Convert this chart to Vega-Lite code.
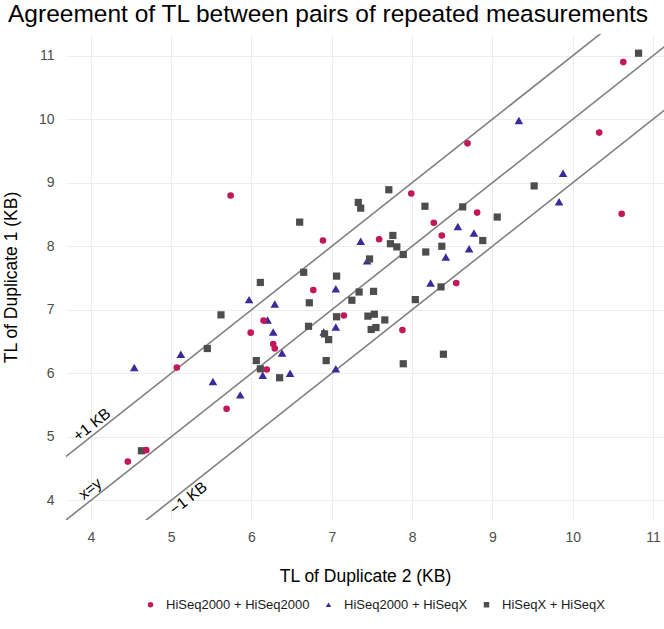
{
  "$schema": "https://vega.github.io/schema/vega-lite/v6.json",
  "width": 598,
  "height": 486,
  "autosize": {"type": "none"},
  "padding": {"left": 66, "top": 34, "right": 0, "bottom": 109},
  "background": "white",
  "title": {"text": "Agreement of TL between pairs of repeated measurements", "anchor": "start", "frame": "group", "dx": -58, "fontSize": 24.5, "font": "Liberation Sans", "fontWeight": "normal", "color": "black", "offset": 7},
  "datasets": {
    "pts": [
      {"g": "HiSeq2000 + HiSeqX", "x": 9.33, "y": 9.98},
      {"g": "HiSeq2000 + HiSeqX", "x": 9.88, "y": 9.15},
      {"g": "HiSeq2000 + HiSeqX", "x": 9.83, "y": 8.70},
      {"g": "HiSeq2000 + HiSeqX", "x": 8.57, "y": 8.31},
      {"g": "HiSeq2000 + HiSeqX", "x": 8.77, "y": 8.21},
      {"g": "HiSeq2000 + HiSeqX", "x": 8.71, "y": 7.96},
      {"g": "HiSeq2000 + HiSeqX", "x": 8.42, "y": 7.83},
      {"g": "HiSeq2000 + HiSeqX", "x": 7.44, "y": 7.77},
      {"g": "HiSeq2000 + HiSeqX", "x": 7.36, "y": 8.08},
      {"g": "HiSeq2000 + HiSeqX", "x": 8.23, "y": 7.42},
      {"g": "HiSeq2000 + HiSeqX", "x": 7.05, "y": 7.33},
      {"g": "HiSeq2000 + HiSeqX", "x": 7.05, "y": 6.73},
      {"g": "HiSeq2000 + HiSeqX", "x": 7.05, "y": 6.07},
      {"g": "HiSeq2000 + HiSeqX", "x": 5.97, "y": 7.16},
      {"g": "HiSeq2000 + HiSeqX", "x": 6.29, "y": 7.09},
      {"g": "HiSeq2000 + HiSeqX", "x": 6.20, "y": 6.84},
      {"g": "HiSeq2000 + HiSeqX", "x": 6.27, "y": 6.65},
      {"g": "HiSeq2000 + HiSeqX", "x": 6.38, "y": 6.32},
      {"g": "HiSeq2000 + HiSeqX", "x": 6.14, "y": 5.97},
      {"g": "HiSeq2000 + HiSeqX", "x": 6.48, "y": 6.00},
      {"g": "HiSeq2000 + HiSeqX", "x": 5.52, "y": 5.87},
      {"g": "HiSeq2000 + HiSeqX", "x": 5.86, "y": 5.66},
      {"g": "HiSeq2000 + HiSeqX", "x": 4.54, "y": 6.09},
      {"g": "HiSeq2000 + HiSeqX", "x": 5.12, "y": 6.30},
      {"g": "HiSeq2000 + HiSeqX", "x": 6.90, "y": 6.65},
      {"g": "HiSeqX + HiSeqX", "x": 10.82, "y": 11.04},
      {"g": "HiSeqX + HiSeqX", "x": 9.52, "y": 8.95},
      {"g": "HiSeqX + HiSeqX", "x": 7.71, "y": 8.89},
      {"g": "HiSeqX + HiSeqX", "x": 8.16, "y": 8.63},
      {"g": "HiSeqX + HiSeqX", "x": 8.63, "y": 8.62},
      {"g": "HiSeqX + HiSeqX", "x": 9.06, "y": 8.46},
      {"g": "HiSeqX + HiSeqX", "x": 8.88, "y": 8.09},
      {"g": "HiSeqX + HiSeqX", "x": 7.76, "y": 8.17},
      {"g": "HiSeqX + HiSeqX", "x": 7.73, "y": 8.04},
      {"g": "HiSeqX + HiSeqX", "x": 7.81, "y": 7.99},
      {"g": "HiSeqX + HiSeqX", "x": 8.37, "y": 8.00},
      {"g": "HiSeqX + HiSeqX", "x": 8.17, "y": 7.91},
      {"g": "HiSeqX + HiSeqX", "x": 7.89, "y": 7.87},
      {"g": "HiSeqX + HiSeqX", "x": 7.47, "y": 7.80},
      {"g": "HiSeqX + HiSeqX", "x": 7.33, "y": 8.69},
      {"g": "HiSeqX + HiSeqX", "x": 7.36, "y": 8.60},
      {"g": "HiSeqX + HiSeqX", "x": 7.06, "y": 7.53},
      {"g": "HiSeqX + HiSeqX", "x": 7.34, "y": 7.28},
      {"g": "HiSeqX + HiSeqX", "x": 7.52, "y": 7.29},
      {"g": "HiSeqX + HiSeqX", "x": 7.25, "y": 7.15},
      {"g": "HiSeqX + HiSeqX", "x": 8.36, "y": 7.36},
      {"g": "HiSeqX + HiSeqX", "x": 8.04, "y": 7.16},
      {"g": "HiSeqX + HiSeqX", "x": 7.06, "y": 6.89},
      {"g": "HiSeqX + HiSeqX", "x": 7.45, "y": 6.90},
      {"g": "HiSeqX + HiSeqX", "x": 7.53, "y": 6.93},
      {"g": "HiSeqX + HiSeqX", "x": 7.66, "y": 6.84},
      {"g": "HiSeqX + HiSeqX", "x": 7.49, "y": 6.69},
      {"g": "HiSeqX + HiSeqX", "x": 7.55, "y": 6.72},
      {"g": "HiSeqX + HiSeqX", "x": 6.91, "y": 6.62},
      {"g": "HiSeqX + HiSeqX", "x": 6.96, "y": 6.53},
      {"g": "HiSeqX + HiSeqX", "x": 6.93, "y": 6.20},
      {"g": "HiSeqX + HiSeqX", "x": 8.39, "y": 6.30},
      {"g": "HiSeqX + HiSeqX", "x": 7.89, "y": 6.15},
      {"g": "HiSeqX + HiSeqX", "x": 6.60, "y": 8.38},
      {"g": "HiSeqX + HiSeqX", "x": 6.65, "y": 7.59},
      {"g": "HiSeqX + HiSeqX", "x": 6.11, "y": 7.43},
      {"g": "HiSeqX + HiSeqX", "x": 6.72, "y": 7.11},
      {"g": "HiSeqX + HiSeqX", "x": 5.62, "y": 6.92},
      {"g": "HiSeqX + HiSeqX", "x": 6.71, "y": 6.74},
      {"g": "HiSeqX + HiSeqX", "x": 5.45, "y": 6.39},
      {"g": "HiSeqX + HiSeqX", "x": 6.06, "y": 6.20},
      {"g": "HiSeqX + HiSeqX", "x": 6.11, "y": 6.07},
      {"g": "HiSeqX + HiSeqX", "x": 6.35, "y": 5.93},
      {"g": "HiSeqX + HiSeqX", "x": 4.63, "y": 4.78},
      {"g": "HiSeq2000 + HiSeq2000", "x": 10.63, "y": 10.90},
      {"g": "HiSeq2000 + HiSeq2000", "x": 10.33, "y": 9.79},
      {"g": "HiSeq2000 + HiSeq2000", "x": 8.69, "y": 9.62},
      {"g": "HiSeq2000 + HiSeq2000", "x": 7.99, "y": 8.83},
      {"g": "HiSeq2000 + HiSeq2000", "x": 8.27, "y": 8.37},
      {"g": "HiSeq2000 + HiSeq2000", "x": 8.81, "y": 8.53},
      {"g": "HiSeq2000 + HiSeq2000", "x": 8.37, "y": 8.17},
      {"g": "HiSeq2000 + HiSeq2000", "x": 7.59, "y": 8.11},
      {"g": "HiSeq2000 + HiSeq2000", "x": 10.61, "y": 8.51},
      {"g": "HiSeq2000 + HiSeq2000", "x": 5.74, "y": 8.80},
      {"g": "HiSeq2000 + HiSeq2000", "x": 6.89, "y": 8.09},
      {"g": "HiSeq2000 + HiSeq2000", "x": 8.55, "y": 7.42},
      {"g": "HiSeq2000 + HiSeq2000", "x": 7.88, "y": 6.68},
      {"g": "HiSeq2000 + HiSeq2000", "x": 6.77, "y": 7.31},
      {"g": "HiSeq2000 + HiSeq2000", "x": 7.15, "y": 6.91},
      {"g": "HiSeq2000 + HiSeq2000", "x": 6.15, "y": 6.83},
      {"g": "HiSeq2000 + HiSeq2000", "x": 5.99, "y": 6.64},
      {"g": "HiSeq2000 + HiSeq2000", "x": 6.27, "y": 6.46},
      {"g": "HiSeq2000 + HiSeq2000", "x": 6.29, "y": 6.39},
      {"g": "HiSeq2000 + HiSeq2000", "x": 5.07, "y": 6.09},
      {"g": "HiSeq2000 + HiSeq2000", "x": 6.19, "y": 6.06},
      {"g": "HiSeq2000 + HiSeq2000", "x": 5.69, "y": 5.44},
      {"g": "HiSeq2000 + HiSeq2000", "x": 4.69, "y": 4.79},
      {"g": "HiSeq2000 + HiSeq2000", "x": 4.46, "y": 4.61}
    ],
    "lines": [
      {"x1": 3.5, "y1": 4.5, "x2": 10.5, "y2": 11.5},
      {"x1": 3.5, "y1": 3.5, "x2": 11.5, "y2": 11.5},
      {"x1": 4.5, "y1": 3.5, "x2": 11.5, "y2": 10.5}
    ],
    "labUp": [
      {"lx": 4.05, "ly": 5.13, "t": "+1 KB"},
      {"lx": 4.03, "ly": 4.12, "t": "x=y"}
    ],
    "labDown": [
      {"lx": 5.16, "ly": 4.12, "t": "−1 KB"}
    ]
  },
  "layer": [
    {
      "data": {"name": "lines"},
      "mark": {"type": "rule", "color": "#808080", "strokeWidth": 1.6, "clip": true},
      "encoding": {
        "x": {"field": "x1", "type": "quantitative", "title": "TL of Duplicate 2 (KB)", "scale": {"domain": [3.69, 11.137], "nice": false, "zero": false}, "axis": {"values": [4, 5, 6, 7, 8, 9, 10, 11], "format": "d"}},
        "y": {"field": "y1", "type": "quantitative", "title": "TL of Duplicate 1 (KB)", "scale": {"domain": [3.69, 11.342], "nice": false, "zero": false}, "axis": {"values": [4, 5, 6, 7, 8, 9, 10, 11], "format": "d"}},
        "x2": {"field": "x2"},
        "y2": {"field": "y2"}
      }
    },
    {
      "data": {"name": "labUp"},
      "mark": {"type": "text", "angle": -38.3, "fontSize": 15.5, "font": "Liberation Sans", "color": "black", "align": "center", "baseline": "alphabetic"},
      "encoding": {
        "x": {"field": "lx", "type": "quantitative", "title": "TL of Duplicate 2 (KB)"},
        "y": {"field": "ly", "type": "quantitative", "title": "TL of Duplicate 1 (KB)"},
        "text": {"field": "t"}
      }
    },
    {
      "data": {"name": "labDown"},
      "mark": {"type": "text", "angle": -38.3, "fontSize": 15.5, "font": "Liberation Sans", "color": "black", "align": "center", "baseline": "top"},
      "encoding": {
        "x": {"field": "lx", "type": "quantitative", "title": "TL of Duplicate 2 (KB)"},
        "y": {"field": "ly", "type": "quantitative", "title": "TL of Duplicate 1 (KB)"},
        "text": {"field": "t"}
      }
    },
    {
      "data": {"name": "pts"},
      "transform": [{"filter": "datum.g === 'HiSeq2000 + HiSeqX'"}],
      "mark": {"type": "point", "filled": true, "opacity": 1, "size": 74},
      "encoding": {
        "x": {"field": "x", "type": "quantitative", "title": "TL of Duplicate 2 (KB)"},
        "y": {"field": "y", "type": "quantitative", "title": "TL of Duplicate 1 (KB)"},
        "color": {"field": "g", "type": "nominal", "scale": {"domain": ["HiSeq2000 + HiSeq2000", "HiSeq2000 + HiSeqX", "HiSeqX + HiSeqX"], "range": ["#C2185B", "#3B2A9A", "#4D4D4D"]}, "legend": {"orient": "none", "legendX": 78, "legendY": 564, "direction": "horizontal", "title": null, "labelFontSize": 13, "labelFont": "Liberation Sans", "labelColor": "#1a1a1a", "symbolSize": 30, "labelOffset": 9, "columnPadding": 12}},
        "shape": {"field": "g", "type": "nominal", "scale": {"domain": ["HiSeq2000 + HiSeq2000", "HiSeq2000 + HiSeqX", "HiSeqX + HiSeqX"], "range": ["circle", "triangle-up", "square"]}, "legend": {"orient": "none", "legendX": 78, "legendY": 564, "direction": "horizontal", "title": null, "labelFontSize": 13, "labelFont": "Liberation Sans", "labelColor": "#1a1a1a", "symbolSize": 30, "labelOffset": 9, "columnPadding": 12}}
      }
    },
    {
      "data": {"name": "pts"},
      "transform": [{"filter": "datum.g === 'HiSeqX + HiSeqX'"}],
      "mark": {"type": "point", "filled": true, "opacity": 1, "size": 52},
      "encoding": {
        "x": {"field": "x", "type": "quantitative", "title": "TL of Duplicate 2 (KB)"},
        "y": {"field": "y", "type": "quantitative", "title": "TL of Duplicate 1 (KB)"},
        "color": {"field": "g", "type": "nominal", "scale": {"domain": ["HiSeq2000 + HiSeq2000", "HiSeq2000 + HiSeqX", "HiSeqX + HiSeqX"], "range": ["#C2185B", "#3B2A9A", "#4D4D4D"]}, "legend": {"orient": "none", "legendX": 78, "legendY": 564, "direction": "horizontal", "title": null, "labelFontSize": 13, "labelFont": "Liberation Sans", "labelColor": "#1a1a1a", "symbolSize": 30, "labelOffset": 9, "columnPadding": 12}},
        "shape": {"field": "g", "type": "nominal", "scale": {"domain": ["HiSeq2000 + HiSeq2000", "HiSeq2000 + HiSeqX", "HiSeqX + HiSeqX"], "range": ["circle", "triangle-up", "square"]}, "legend": {"orient": "none", "legendX": 78, "legendY": 564, "direction": "horizontal", "title": null, "labelFontSize": 13, "labelFont": "Liberation Sans", "labelColor": "#1a1a1a", "symbolSize": 30, "labelOffset": 9, "columnPadding": 12}}
      }
    },
    {
      "data": {"name": "pts"},
      "transform": [{"filter": "datum.g === 'HiSeq2000 + HiSeq2000'"}],
      "mark": {"type": "point", "filled": true, "opacity": 1, "size": 44},
      "encoding": {
        "x": {"field": "x", "type": "quantitative", "title": "TL of Duplicate 2 (KB)"},
        "y": {"field": "y", "type": "quantitative", "title": "TL of Duplicate 1 (KB)"},
        "color": {"field": "g", "type": "nominal", "scale": {"domain": ["HiSeq2000 + HiSeq2000", "HiSeq2000 + HiSeqX", "HiSeqX + HiSeqX"], "range": ["#C2185B", "#3B2A9A", "#4D4D4D"]}, "legend": {"orient": "none", "legendX": 78, "legendY": 564, "direction": "horizontal", "title": null, "labelFontSize": 13, "labelFont": "Liberation Sans", "labelColor": "#1a1a1a", "symbolSize": 30, "labelOffset": 9, "columnPadding": 12}},
        "shape": {"field": "g", "type": "nominal", "scale": {"domain": ["HiSeq2000 + HiSeq2000", "HiSeq2000 + HiSeqX", "HiSeqX + HiSeqX"], "range": ["circle", "triangle-up", "square"]}, "legend": {"orient": "none", "legendX": 78, "legendY": 564, "direction": "horizontal", "title": null, "labelFontSize": 13, "labelFont": "Liberation Sans", "labelColor": "#1a1a1a", "symbolSize": 30, "labelOffset": 9, "columnPadding": 12}}
      }
    }
  ],
  "config": {
    "view": {"stroke": null},
    "font": "Liberation Sans",
    "axis": {"domain": false, "ticks": false, "grid": true, "gridColor": "#ebebeb", "gridWidth": 0.9, "labelFont": "Liberation Sans", "labelFontSize": 14, "labelColor": "#4d4d4d", "titleFont": "Liberation Sans", "titleFontSize": 17.5, "titleFontWeight": "normal", "titleColor": "black"},
    "axisX": {"labelPadding": 10, "titlePadding": 23},
    "axisY": {"labelPadding": 12, "titlePadding": 18}
  }
}
